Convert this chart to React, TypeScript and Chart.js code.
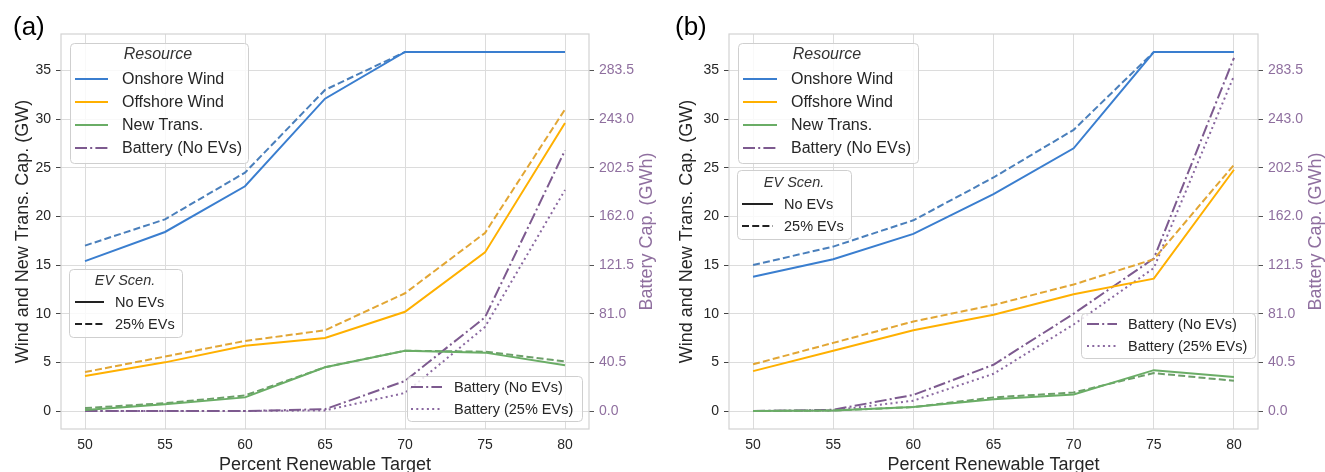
import React, { useEffect, useRef } from 'react';
import { Chart, registerables } from 'chart.js';

Chart.register(...registerables);

// ---------- data ----------
const targets = [50, 55, 60, 65, 70, 75, 80];
const xTickValues = [50, 55, 60, 65, 70, 75, 80];
const gwTickValues = [0, 5, 10, 15, 20, 25, 30, 35];
const gwhTickValues = [0, 40.5, 81, 121.5, 162, 202.5, 243, 283.5];

// Panel (a) — GW
const onshoreA_noEV = [15.4, 18.4, 23.1, 32.1, 36.9, 36.9, 36.9];
const onshoreA_ev25 = [17.0, 19.7, 24.5, 33.0, 36.9, 36.9, 36.9];
const offshoreA_noEV = [3.6, 5.0, 6.7, 7.5, 10.2, 16.3, 29.6];
const offshoreA_ev25 = [4.0, 5.6, 7.2, 8.3, 12.1, 18.3, 31.0];
const transA_noEV = [0.1, 0.7, 1.4, 4.5, 6.2, 6.0, 4.7];
const transA_ev25 = [0.3, 0.8, 1.6, 4.5, 6.2, 6.1, 5.1];
// Panel (a) — GWh
const batteryA_noEV = [0, 0, 0, 1.5, 25, 78, 217];
const batteryA_ev25 = [0, 0, 0, 0.5, 15, 70, 184];

// Panel (b) — GW
const onshoreB_noEV = [13.8, 15.6, 18.2, 22.3, 27.0, 36.9, 36.9];
const onshoreB_ev25 = [15.0, 16.9, 19.6, 24.0, 28.9, 36.9, 36.9];
const offshoreB_noEV = [4.1, 6.2, 8.3, 9.9, 12.0, 13.6, 24.8];
const offshoreB_ev25 = [4.8, 7.0, 9.2, 10.9, 13.0, 15.6, 25.3];
const transB_noEV = [0, 0.05, 0.4, 1.2, 1.7, 4.2, 3.5];
const transB_ev25 = [0, 0.05, 0.4, 1.4, 1.9, 3.9, 3.1];
// Panel (b) — GWh
const batteryB_noEV = [0, 1, 13.4, 38.5, 81, 127, 294];
const batteryB_ev25 = [0, 0.5, 8.6, 31, 72, 119, 279];

const GW_MIN = -1.85;
const GW_MAX = 38.75;
const GWH_PER_GW = 8.1;

// ---------- styles ----------
const FONT = '"Liberation Sans", Arial, Helvetica, sans-serif';
const TEXT = '#262626';
const GRID = '#dcdcdc';
const PURPLE_TEXT = '#8f6f9f';
const C = {
  onSolid: '#3a7ecf',
  onDash: '#4a7fbb',
  offSolid: '#ffb000',
  offDash: '#e2a634',
  trSolid: '#6aad66',
  trDash: '#6c9f69',
  batDD: '#7d5a8f',
  batDot: '#8a68a0',
};
const DASH = [7, 3.2];
const DASHDOT = [12, 3.2, 2, 3.2];
const DOT = [2, 3.3];

type LegendItem = { label: string; color: string; dash: number[] };
type LegendSpec = {
  x: number; y: number; w: number; h: number;
  title?: string; titleX?: number; titleY?: number;
  fontSize: number;
  rows: number[];
  hx0: number; hx1: number; tx: number;
  items: LegendItem[];
};

type PanelSpec = {
  label: string;
  labelX: number;
  width: number;
  leftW: number;
  rightW: number;
  leftTitlePad: number;
  onNo: number[]; onEv: number[];
  offNo: number[]; offEv: number[];
  trNo: number[]; trEv: number[];
  batNo: number[]; batEv: number[];
  legends: LegendSpec[];
};

const resourceItems: LegendItem[] = [
  { label: 'Onshore Wind', color: C.onSolid, dash: [] },
  { label: 'Offshore Wind', color: C.offSolid, dash: [] },
  { label: 'New Trans.', color: C.trSolid, dash: [] },
  { label: 'Battery (No EVs)', color: C.batDD, dash: DASHDOT },
];
const evItems: LegendItem[] = [
  { label: 'No EVs', color: '#222222', dash: [] },
  { label: '25% EVs', color: '#222222', dash: DASH },
];
const batteryItems: LegendItem[] = [
  { label: 'Battery (No EVs)', color: C.batDD, dash: DASHDOT },
  { label: 'Battery (25% EVs)', color: C.batDot, dash: DOT },
];

const panelA: PanelSpec = {
  label: '(a)', labelX: 13, width: 662, leftW: 61, rightW: 73, leftTitlePad: 12,
  onNo: onshoreA_noEV, onEv: onshoreA_ev25,
  offNo: offshoreA_noEV, offEv: offshoreA_ev25,
  trNo: transA_noEV, trEv: transA_ev25,
  batNo: batteryA_noEV, batEv: batteryA_ev25,
  legends: [
    { x: 70, y: 43, w: 178, h: 120, title: 'Resource', titleX: 158, titleY: 55, fontSize: 16,
      rows: [79, 102, 125, 148], hx0: 75, hx1: 108, tx: 122, items: resourceItems },
    { x: 69, y: 269, w: 113, h: 68, title: 'EV Scen.', titleX: 125, titleY: 281, fontSize: 14.5,
      rows: [302, 324], hx0: 75, hx1: 104, tx: 115, items: evItems },
    { x: 407, y: 376, w: 175, h: 45, fontSize: 14.5,
      rows: [387, 409], hx0: 411, hx1: 442, tx: 454, items: batteryItems },
  ],
};

const panelB: PanelSpec = {
  label: '(b)', labelX: 13, width: 663, leftW: 67, rightW: 67, leftTitlePad: 14,
  onNo: onshoreB_noEV, onEv: onshoreB_ev25,
  offNo: offshoreB_noEV, offEv: offshoreB_ev25,
  trNo: transB_noEV, trEv: transB_ev25,
  batNo: batteryB_noEV, batEv: batteryB_ev25,
  legends: [
    { x: 76, y: 43, w: 180, h: 120, title: 'Resource', titleX: 165, titleY: 55, fontSize: 16,
      rows: [79, 102, 125, 148], hx0: 81, hx1: 115, tx: 129, items: resourceItems },
    { x: 75, y: 170, w: 114, h: 69, title: 'EV Scen.', titleX: 132, titleY: 183, fontSize: 14.5,
      rows: [204, 226], hx0: 80, hx1: 111, tx: 122, items: evItems },
    { x: 419, y: 313, w: 174, h: 45, fontSize: 14.5,
      rows: [324, 346], hx0: 425, hx1: 455, tx: 466, items: batteryItems },
  ],
};

function roundRect(ctx: CanvasRenderingContext2D, x: number, y: number, w: number, h: number, r: number) {
  ctx.beginPath();
  ctx.moveTo(x + r, y);
  ctx.lineTo(x + w - r, y);
  ctx.quadraticCurveTo(x + w, y, x + w, y + r);
  ctx.lineTo(x + w, y + h - r);
  ctx.quadraticCurveTo(x + w, y + h, x + w - r, y + h);
  ctx.lineTo(x + r, y + h);
  ctx.quadraticCurveTo(x, y + h, x, y + h - r);
  ctx.lineTo(x, y + r);
  ctx.quadraticCurveTo(x, y, x + r, y);
  ctx.closePath();
}

function drawLegend(ctx: CanvasRenderingContext2D, L: LegendSpec) {
  ctx.save();
  roundRect(ctx, L.x + 0.5, L.y + 0.5, L.w, L.h, 4);
  ctx.fillStyle = 'rgba(255,255,255,0.82)';
  ctx.fill();
  ctx.strokeStyle = '#cfcfcf';
  ctx.lineWidth = 1;
  ctx.setLineDash([]);
  ctx.stroke();
  ctx.textBaseline = 'middle';
  if (L.title) {
    ctx.font = `italic ${L.fontSize}px ${FONT}`;
    ctx.fillStyle = '#333333';
    ctx.textAlign = 'center';
    ctx.fillText(L.title, L.titleX as number, L.titleY as number);
  }
  L.items.forEach((it, i) => {
    const y = L.rows[i];
    ctx.beginPath();
    ctx.setLineDash(it.dash);
    ctx.strokeStyle = it.color;
    ctx.lineWidth = 2;
    ctx.moveTo(L.hx0, y);
    ctx.lineTo(L.hx1, y);
    ctx.stroke();
    ctx.setLineDash([]);
    ctx.font = `${L.fontSize}px ${FONT}`;
    ctx.fillStyle = TEXT;
    ctx.textAlign = 'left';
    ctx.fillText(it.label, L.tx, y + 1);
  });
  ctx.restore();
}

function series(label: string, values: number[], color: string, dash: number[], axis: string) {
  return {
    label,
    data: targets.map((x, i) => ({ x, y: values[i] })),
    borderColor: color,
    backgroundColor: color,
    borderWidth: 2,
    borderDash: dash,
    pointRadius: 0,
    pointHoverRadius: 0,
    tension: 0,
    fill: false,
    yAxisID: axis,
  };
}

function makeConfig(p: PanelSpec): any {
  const decorations = {
    id: 'decorations' + p.label,
    afterDraw(chart: any) {
      const ctx = chart.ctx as CanvasRenderingContext2D;
      const a = chart.chartArea;
      ctx.save();
      // frame
      ctx.strokeStyle = '#d2d2d2';
      ctx.lineWidth = 1.2;
      ctx.setLineDash([]);
      ctx.strokeRect(a.left, a.top, a.right - a.left, a.bottom - a.top);
      // right axis title (reads bottom-to-top)
      ctx.translate(a.right + 58, (a.top + a.bottom) / 2);
      ctx.rotate(-Math.PI / 2);
      ctx.font = `18px ${FONT}`;
      ctx.fillStyle = PURPLE_TEXT;
      ctx.textAlign = 'center';
      ctx.textBaseline = 'middle';
      ctx.fillText('Battery Cap. (GWh)', 0, 0);
      ctx.restore();
      // panel label
      ctx.save();
      ctx.font = `26px ${FONT}`;
      ctx.fillStyle = '#000000';
      ctx.textAlign = 'left';
      ctx.textBaseline = 'alphabetic';
      ctx.fillText(p.label, p.labelX, 35);
      ctx.restore();
      p.legends.forEach((L) => drawLegend(ctx, L));
    },
  };

  return {
    type: 'line',
    data: {
      datasets: [
        series('Onshore Wind (No EVs)', p.onNo, C.onSolid, [], 'y'),
        series('Onshore Wind (25% EVs)', p.onEv, C.onDash, DASH, 'y'),
        series('Offshore Wind (No EVs)', p.offNo, C.offSolid, [], 'y'),
        series('Offshore Wind (25% EVs)', p.offEv, C.offDash, DASH, 'y'),
        series('New Trans. (No EVs)', p.trNo, C.trSolid, [], 'y'),
        series('New Trans. (25% EVs)', p.trEv, C.trDash, DASH, 'y'),
        series('Battery (No EVs)', p.batNo, C.batDD, DASHDOT, 'y1'),
        series('Battery (25% EVs)', p.batEv, C.batDot, DOT, 'y1'),
      ],
    },
    options: {
      responsive: false,
      animation: false,
      devicePixelRatio: 1,
      layout: { padding: { top: 34, left: 0, right: 0, bottom: 0 } },
      plugins: { legend: { display: false }, tooltip: { enabled: false }, title: { display: false } },
      scales: {
        x: {
          type: 'linear',
          min: 48.5,
          max: 81.5,
          afterBuildTicks: (s: any) => { s.ticks = xTickValues.map((v) => ({ value: v })); },
          afterFit: (s: any) => { s.height = 51; },
          grid: { color: GRID, lineWidth: 1, drawTicks: false },
          border: { display: false },
          ticks: { padding: 8, color: TEXT, font: { size: 14, family: FONT }, autoSkip: false, maxRotation: 0 },
          title: {
            display: true, text: 'Percent Renewable Target', color: TEXT,
            font: { size: 18, family: FONT }, padding: { top: 0, bottom: 4 },
          },
        },
        y: {
          position: 'left',
          min: GW_MIN,
          max: GW_MAX,
          afterBuildTicks: (s: any) => { s.ticks = gwTickValues.map((v) => ({ value: v })); },
          afterFit: (s: any) => { s.width = p.leftW; },
          grid: { color: GRID, lineWidth: 1, drawTicks: true, tickLength: 5, tickColor: '#444444' },
          border: { display: false },
          ticks: { padding: 5, color: TEXT, font: { size: 14, family: FONT }, autoSkip: false },
          title: {
            display: true, text: 'Wind and New Trans. Cap. (GW)', color: TEXT,
            font: { size: 18, family: FONT }, padding: { top: p.leftTitlePad, bottom: 0 },
          },
        },
        y1: {
          position: 'right',
          min: GW_MIN * GWH_PER_GW,
          max: GW_MAX * GWH_PER_GW,
          afterBuildTicks: (s: any) => { s.ticks = gwhTickValues.map((v) => ({ value: v })); },
          afterFit: (s: any) => { s.width = p.rightW; },
          grid: { drawOnChartArea: false, drawTicks: true, tickLength: 5, tickColor: '#555555' },
          border: { display: false },
          ticks: {
            padding: 5, color: PURPLE_TEXT, font: { size: 14, family: FONT }, autoSkip: false,
            callback: (v: any) => Number(v).toFixed(1),
          },
        },
      },
    },
    plugins: [decorations],
  };
}

function Panel({ spec, left }: { spec: PanelSpec; left: number }) {
  const ref = useRef<HTMLCanvasElement | null>(null);
  useEffect(() => {
    if (!ref.current) return;
    const chart = new Chart(ref.current, makeConfig(spec));
    return () => chart.destroy();
  }, [spec]);
  return (
    <canvas
      ref={ref}
      width={spec.width}
      height={480}
      style={{ position: 'absolute', left, top: 0, width: spec.width, height: 480, display: 'block' }}
    />
  );
}

export default function App() {
  return (
    <div
      style={{
        position: 'fixed', left: 0, top: 0, width: 1325, height: 472,
        overflow: 'hidden', background: '#ffffff',
      }}
    >
      <Panel spec={panelA} left={0} />
      <Panel spec={panelB} left={662} />
    </div>
  );
}
